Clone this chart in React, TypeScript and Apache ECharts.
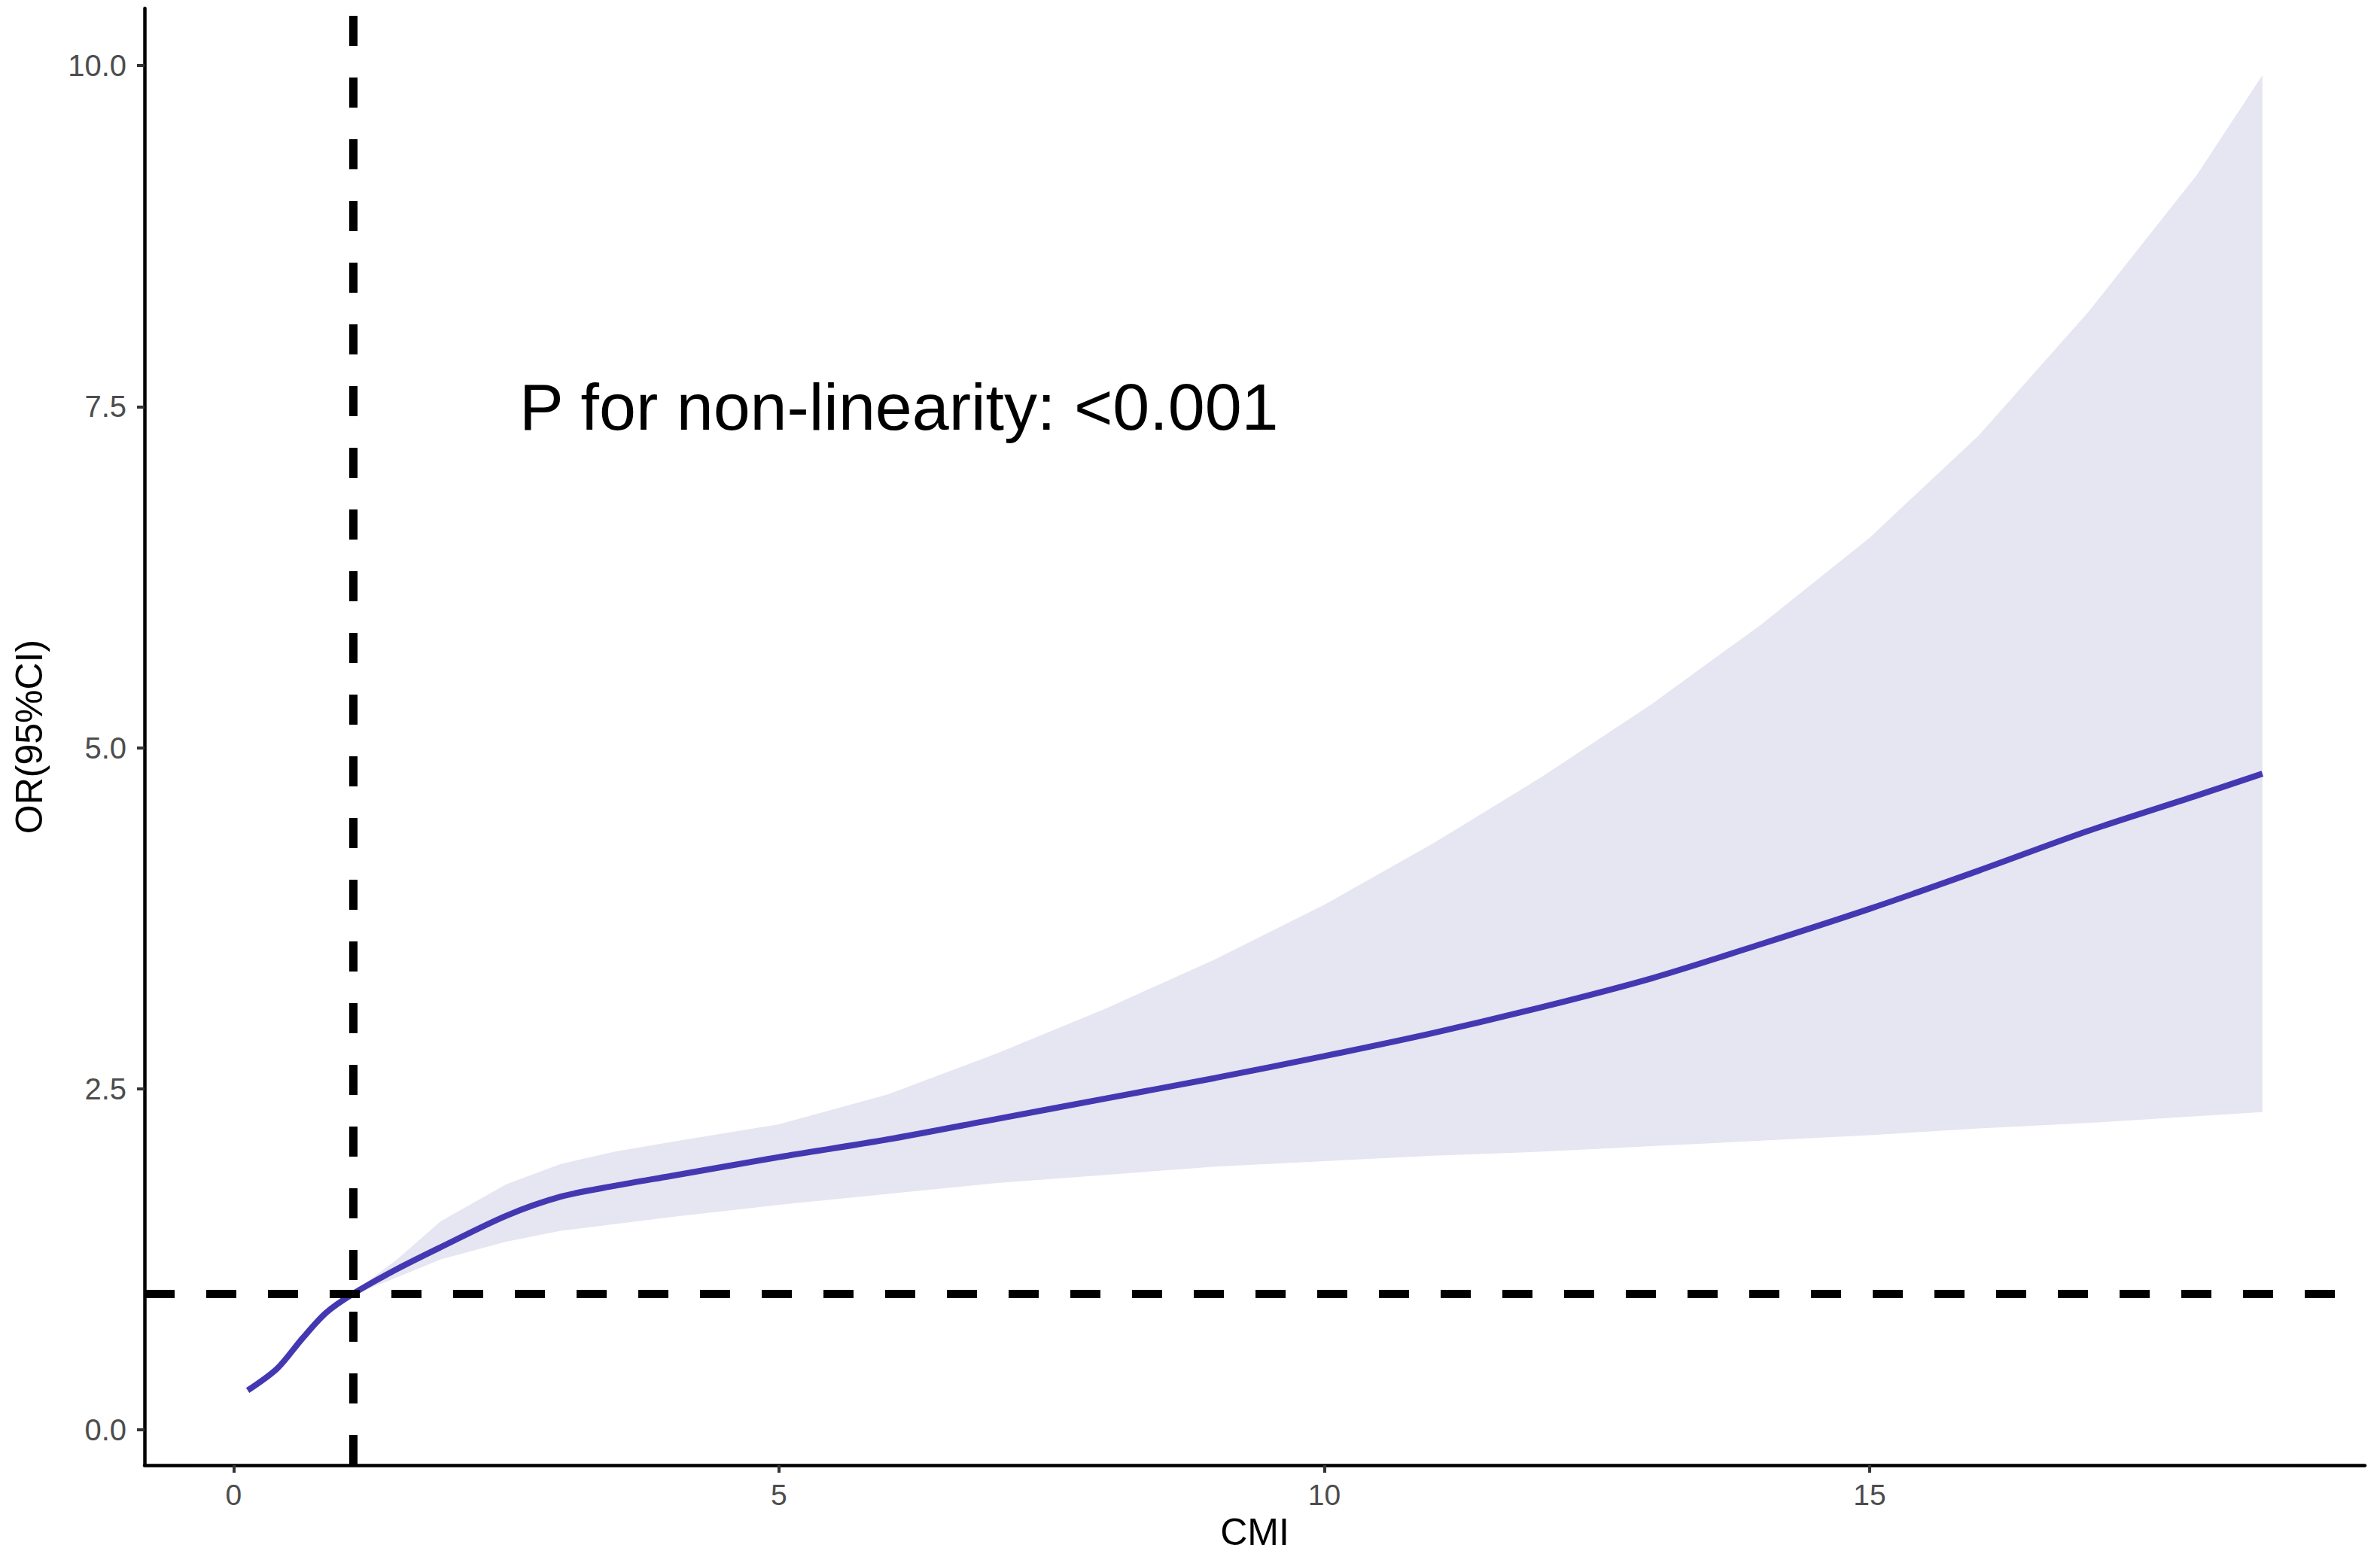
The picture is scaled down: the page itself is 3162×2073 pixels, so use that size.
import React, { useEffect, useRef } from "react";
import * as echarts from "echarts";

// CMI values (x) at which the curve is read
const cmi = [0.13, 0.4, 0.63, 0.85, 1.1, 1.5, 1.9, 2.5, 3, 3.5, 4, 5, 6, 7, 8, 9, 10, 11, 12, 13, 14, 15, 16, 17, 18, 18.6];
// fitted OR
const orFit = [0.29, 0.45, 0.67, 0.86, 1.0, 1.18, 1.34, 1.57, 1.71, 1.79, 1.86, 2.0, 2.13, 2.28, 2.43, 2.58, 2.74, 2.91, 3.1, 3.31, 3.56, 3.82, 4.1, 4.39, 4.65, 4.81];
// 95% CI lower
const ciLower = [0.28, 0.44, 0.66, 0.85, 0.99, 1.12, 1.25, 1.38, 1.46, 1.51, 1.56, 1.65, 1.73, 1.81, 1.87, 1.93, 1.97, 2.01, 2.04, 2.08, 2.12, 2.16, 2.21, 2.25, 2.3, 2.33];
// 95% CI upper
const ciUpper = [0.30, 0.46, 0.68, 0.87, 1.01, 1.25, 1.53, 1.8, 1.95, 2.04, 2.11, 2.24, 2.46, 2.76, 3.09, 3.45, 3.85, 4.3, 4.79, 5.32, 5.9, 6.54, 7.29, 8.19, 9.2, 9.93];

const xTicks = [0, 5, 10, 15];
const yTicks = [0, 2.5, 5, 7.5, 10];
const refX = 1.1;
const refY = 1;
const annotation = "P for non-linearity: <0.001";
const annotationPos = [6.1, 7.5];

const FONT = "'Liberation Sans', Arial, Helvetica, sans-serif";

export default function App() {
  const ref = useRef<HTMLDivElement>(null);
  useEffect(() => {
    if (!ref.current) return;
    const chart = echarts.init(ref.current, undefined, { renderer: "svg" });
    const option = {
      animation: false,
      backgroundColor: "#ffffff",
      grid: { left: 192, right: 20, top: 11, bottom: 126, containLabel: false },
      xAxis: {
        type: "value",
        min: -0.816,
        max: 19.54,
        name: "CMI",
        nameLocation: "middle",
        nameGap: 62,
        nameTextStyle: { fontFamily: FONT, fontSize: 50, color: "#000" },
        axisLine: { show: true, onZero: false, lineStyle: { color: "#000", width: 4.5 } },
        axisTick: { show: true, length: 10, customValues: xTicks, lineStyle: { color: "#333", width: 4 } },
        axisLabel: {
          customValues: xTicks,
          margin: 20,
          fontFamily: FONT,
          fontSize: 39,
          color: "#4d4d4d",
        },
        splitLine: { show: false },
      },
      yAxis: {
        type: "value",
        min: -0.258,
        max: 10.42,
        name: "OR(95%CI)",
        nameLocation: "middle",
        nameGap: 128,
        nameRotate: 90,
        nameTextStyle: { fontFamily: FONT, fontSize: 50, color: "#000" },
        axisLine: { show: true, onZero: false, lineStyle: { color: "#000", width: 4.5 } },
        axisTick: { show: true, length: 10, customValues: yTicks, lineStyle: { color: "#333", width: 4 } },
        axisLabel: {
          customValues: yTicks,
          margin: 24,
          fontFamily: FONT,
          fontSize: 40,
          color: "#4d4d4d",
          formatter: (v: number) => v.toFixed(1),
        },
        splitLine: { show: false },
      },
      series: [
        {
          name: "95% CI",
          type: "custom",
          data: cmi.map((x, i) => [x, ciLower[i], ciUpper[i]]),
          encode: { x: 0, y: [1, 2] },
          silent: true,
          z: 1,
          renderItem: (params: any, api: any) => {
            if (params.dataIndex !== 0) return null;
            const upperPts = cmi.map((x, i) => api.coord([x, ciUpper[i]]));
            const lowerPts = cmi.map((x, i) => api.coord([x, ciLower[i]])).reverse();
            return {
              type: "polygon",
              shape: { points: upperPts.concat(lowerPts) },
              style: { fill: "#E6E5F2", stroke: "none" },
            };
          },
        },
        {
          name: "OR",
          type: "line",
          data: cmi.map((x, i) => [x, orFit[i]]),
          symbol: "none",
          smooth: 0.3,
          lineStyle: { color: "#4438B2", width: 8 },
          z: 3,
        },
        {
          name: "reference",
          type: "line",
          data: [],
          z: 5,
          markLine: {
            silent: true,
            symbol: ["none", "none"],
            label: { show: false },
            lineStyle: { color: "#000", width: 11, type: [40, 42] },
            data: [{ xAxis: refX }, { yAxis: refY }],
            z: 5,
          },
        },
        {
          name: "annotation",
          type: "custom",
          data: [annotationPos],
          encode: { x: 0, y: 1 },
          silent: true,
          z: 6,
          renderItem: (params: any, api: any) => {
            const p = api.coord([api.value(0), api.value(1)]);
            return {
              type: "text",
              x: p[0],
              y: p[1],
              style: {
                text: annotation,
                fill: "#000000",
                font: `88px ${FONT}`,
                align: "center",
                verticalAlign: "middle",
              },
            };
          },
        },
      ],
    };
    chart.setOption(option as any);
    return () => chart.dispose();
  }, []);
  return (
    <div
      ref={ref}
      style={{ position: "fixed", left: 0, top: 0, width: 3162, height: 2073, background: "#fff" }}
    />
  );
}
